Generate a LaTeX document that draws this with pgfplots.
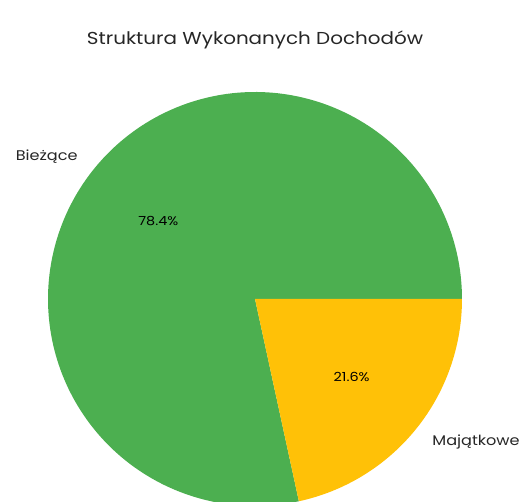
\documentclass[border=0pt]{standalone}
\usepackage{pgfplots}
\pgfplotsset{compat=1.18}
\usepackage{fontspec}
\setmainfont{Poppins}
\definecolor{pieGreen}{HTML}{4CAF50}
\definecolor{pieAmber}{HTML}{FFC107}
\definecolor{txt}{HTML}{262626}
\begin{document}
\begin{tikzpicture}
\def\valA{78.4}
\def\valB{21.6}
\pgfmathsetmacro{\angA}{3.6*\valA}
\begin{axis}[
  x={(207bp,0)}, y={(0,207bp)},
  xmin=-1.2319, xmax=1.3092, ymin=-0.9807, ymax=1.4444,
  hide axis, clip=false,
]
\addplot[draw=none, fill=pieGreen, domain=0:\angA, samples=200, variable=\t]
  ({cos(\t)},{sin(\t)}) -- (axis cs:0,0) -- cycle;
\addplot[draw=none, fill=pieAmber, domain=\angA:360, samples=100, variable=\t]
  ({cos(\t)},{sin(\t)}) -- (axis cs:0,0) -- cycle;
\node[anchor=east, xscale=1.15, text=txt, font=\fontsize{14bp}{16bp}\selectfont, inner sep=0pt] at (axis cs:-0.856,0.690) {Bieżące};
\node[anchor=west, xscale=1.15, text=txt, font=\fontsize{14bp}{16bp}\selectfont, inner sep=0pt] at (axis cs:0.856,-0.690) {Majątkowe};
\node[xscale=1.15, text=black, font=\fontsize{12.5bp}{14bp}\selectfont, inner sep=0pt] at (axis cs:-0.467,0.377) {78.4\%};
\node[xscale=1.15, text=black, font=\fontsize{12.5bp}{14bp}\selectfont, inner sep=0pt] at (axis cs:0.467,-0.377) {21.6\%};
\node[xscale=1.15, text=txt, font=\fontsize{17.3bp}{20bp}\selectfont, inner sep=0pt] at (axis cs:0,1.252) {Struktura Wykonanych Dochodów};
\end{axis}
\pgfresetboundingbox
\path[use as bounding box] (current axis.south west) rectangle (current axis.north east);
\end{tikzpicture}
\end{document}
